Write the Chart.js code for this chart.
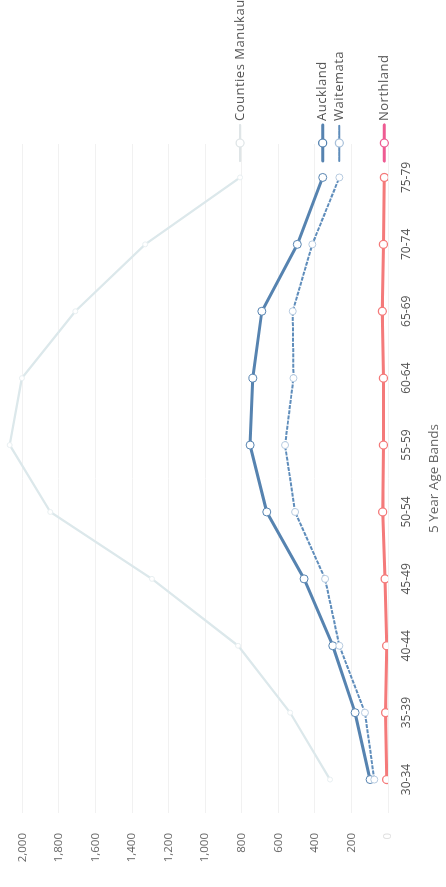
<!DOCTYPE html>
<html>
<head>
<meta charset="utf-8">
<script src="https://cdn.jsdelivr.net/npm/chart.js@4"></script>
<style>
  html, body { margin: 0; padding: 0; background: #fff; overflow: hidden; }
  #page { position: relative; width: 446px; height: 887px; overflow: hidden; background: #fff; }
  /* the chart is laid out landscape and turned a quarter turn counter-clockwise */
  #turn {
    position: absolute; left: 0; top: 0;
    width: 887px; height: 446px;
    transform-origin: 0 0;
    transform: translate(0, 887px) rotate(-90deg);
  }
</style>
</head>
<body>
<div id="page"><div id="turn"><canvas id="chart" width="887" height="446"></canvas></div></div>
<script>
// 5 year age bands
const ageBands = ['30-34', '35-39', '40-44', '45-49', '50-54', '55-59', '60-64', '65-69', '70-74', '75-79'];

// counts per district
const countiesManukau = [317, 535, 820, 1291, 1847, 2069, 2002, 1710, 1328, 809];
const auckland        = [98, 180, 302, 459, 663, 754, 739, 690, 496, 357];
const waitemata       = [75, 126, 266, 344, 508, 563, 517, 521, 414, 266];
const northland       = [7, 13, 7, 16, 29, 25, 25, 31, 25, 20];

// value axis
const valueTicks = [0, 200, 400, 600, 800, 1000, 1200, 1400, 1600, 1800, 2000];
const valueMax = 2100;

const FONT = '"Open Sans", "DejaVu Sans", sans-serif';

// label + key drawn at the end of each line, level with its last point
const endLabels = {
  id: 'endLabels',
  afterDatasetsDraw(chart) {
    const { ctx, chartArea } = chart;
    chart.data.datasets.forEach((ds, i) => {
      const meta = chart.getDatasetMeta(i);
      const last = meta.data[meta.data.length - 1];
      if (!last) return;
      const y = last.y;
      const cx = chartArea.right + 1;
      ctx.save();
      ctx.strokeStyle = ds.keyColor;
      ctx.lineWidth = ds.borderWidth;
      ctx.lineCap = 'round';
      ctx.setLineDash(ds.borderDash || []);
      ctx.beginPath();
      ctx.moveTo(cx - 18, y);
      ctx.lineTo(cx + 18, y);
      ctx.stroke();
      ctx.setLineDash([]);
      ctx.beginPath();
      ctx.arc(cx, y, 4, 0, Math.PI * 2);
      ctx.fillStyle = '#fff';
      ctx.fill();
      ctx.lineWidth = 1.2;
      ctx.strokeStyle = ds.keyPointColor || ds.keyColor;
      ctx.stroke();
      ctx.font = '13px ' + FONT;
      ctx.letterSpacing = '0.5px';
      ctx.fillStyle = '#555';
      ctx.textAlign = 'left';
      ctx.textBaseline = 'middle';
      ctx.fillText(ds.label, cx + 22, y);
      ctx.restore();
    });
  }
};

new Chart(document.getElementById('chart'), {
  type: 'line',
  data: {
    labels: ageBands,
    datasets: [
      {
        label: 'Counties Manukau',
        data: countiesManukau,
        borderColor: '#dce8eb',
        keyColor: '#dfe5e7',
        borderWidth: 2.3,
        pointRadius: 2.5,
        pointBackgroundColor: '#fff',
        pointBorderColor: '#e8eff1',
        pointBorderWidth: 1,
        tension: 0
      },
      {
        label: 'Waitemata',
        data: waitemata,
        borderColor: '#5f8dbb',
        keyColor: '#5f8dbb',
        keyPointColor: '#a9c1da',
        borderWidth: 2,
        borderDash: [4, 1.2],
        pointRadius: 3.5,
        pointBackgroundColor: '#fff',
        pointBorderColor: '#b7cbe0',
        pointBorderWidth: 1,
        tension: 0
      },
      {
        label: 'Auckland',
        data: auckland,
        borderColor: '#5683b0',
        keyColor: '#5683b0',
        borderWidth: 3,
        pointRadius: 4,
        pointBackgroundColor: '#fff',
        pointBorderColor: '#5683b0',
        pointBorderWidth: 1,
        tension: 0
      },
      {
        label: 'Northland',
        data: northland,
        borderColor: '#f47a7a',
        keyColor: '#ee5b92',
        keyPointColor: '#ee5b92',
        borderWidth: 3,
        pointRadius: 4,
        pointBackgroundColor: '#fff',
        pointBorderColor: '#f47a7a',
        pointBorderWidth: 1.3,
        tension: 0
      }
    ]
  },
  options: {
    responsive: false,
    animation: false,
    devicePixelRatio: 1,
    layout: { autoPadding: false, padding: { top: 4, right: 144, left: 0, bottom: 0 } },
    plugins: {
      legend: { display: false },
      tooltip: { enabled: false }
    },
    scales: {
      x: {
        type: 'category',
        offset: true,
        grid: { display: false, drawTicks: false },
        border: { display: false },
        ticks: {
          color: '#555',
          font: { family: FONT, size: 12 },
          padding: 11,
          maxRotation: 0,
          autoSkip: false
        },
        title: {
          display: true,
          text: '5 Year Age Bands',
          color: '#666',
          font: { family: FONT, size: 13.5 },
          padding: { top: 0, bottom: 4 }
        },
        afterFit(scale) {
          scale.height = 58;
          scale.paddingLeft = 0;
          scale.paddingRight = 0;
        }
      },
      y: {
        min: 0,
        max: valueMax,
        grid: { color: '#f1f1f1', lineWidth: 1, drawTicks: false },
        border: { display: false },
        ticks: {
          stepSize: 200,
          padding: 20,
          font: { family: FONT, size: 11.5 },
          color: (c) => (c.tick && c.tick.value === 0 ? '#dedede' : '#666'),
          callback: (v) => v.toLocaleString('en-US')
        },
        afterBuildTicks(scale) {
          scale.ticks = valueTicks.map((v) => ({ value: v }));
        },
        afterFit(scale) {
          scale.width = 74;
          scale.paddingTop = 0;
          scale.paddingBottom = 0;
        }
      }
    }
  },
  plugins: [endLabels]
});
</script>
</body>
</html>
